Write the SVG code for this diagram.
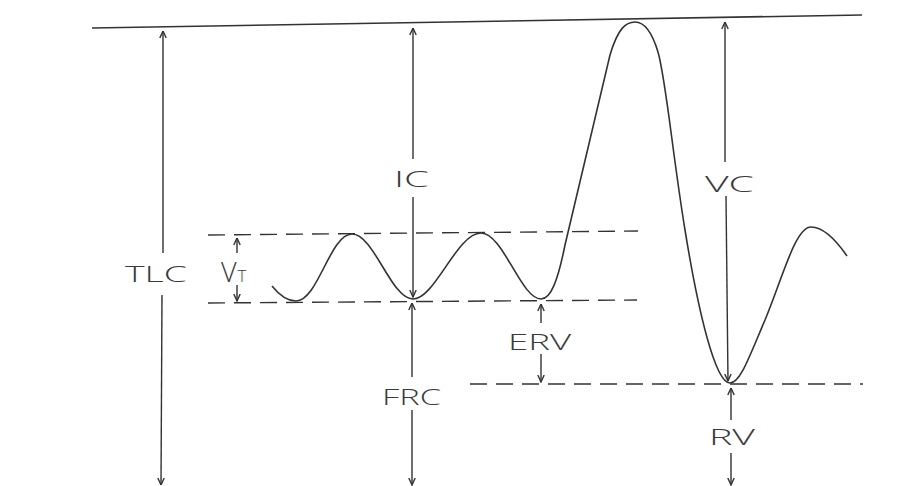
<svg xmlns="http://www.w3.org/2000/svg" width="897" height="486" viewBox="0 0 897 486">
<defs>
<marker id="ah" viewBox="0 0 8 8" refX="7.5" refY="4" markerWidth="8" markerHeight="8" markerUnits="userSpaceOnUse" orient="auto">
<path d="M0.5,0.8 L7.5,4 L0.5,7.2" fill="none" stroke="#333" stroke-width="1.4"/>
</marker>
<style>
.ln{stroke:#333;stroke-width:1.6;fill:none}
.ar{stroke:#333;stroke-width:1.4;fill:none;marker-end:url(#ah)}
.ds{stroke:#333;stroke-width:1.4;fill:none;stroke-dasharray:17 9}
.lb{font-family:"Open Sans","Liberation Sans",sans-serif;font-weight:300;font-size:22px;fill:#3a3a3a}
</style>
</defs>
<rect width="897" height="486" fill="#fff"/>
<g id="baseline-top"><line class="ln" x1="92" y1="28" x2="862" y2="15"/></g>
<g id="dashed-lines">
<line class="ds" x1="208" y1="235" x2="638" y2="231"/>
<line class="ds" x1="208" y1="303" x2="637" y2="300"/>
<line class="ds" x1="470" y1="384" x2="863" y2="384"/>
</g>
<g id="wave">
<path class="ln" d="M272,286 C280,296 288,301 296,301 C318,301 330,234 352,234 C374,234 391,299 413,299 C435,299 457,233 481,233 C503,233 521,299 541,299 C551,299 558,280 565,245 L610,55 C618,28 626,22 635,22 C645,22 652,32 658,52 C666,80 672,150 685,230 C698,310 715,383 730,383 C740,383 748,360 765,320 C782,280 795,227 811,227 C825,227 838,243 847,256"/>
</g>
<g id="connectors">
<line class="ar" x1="163" y1="253" x2="163" y2="31"/>
<line class="ar" x1="162" y1="295" x2="161" y2="485"/>
<line class="ar" x1="413" y1="159" x2="413" y2="28"/>
<line class="ar" x1="413" y1="197" x2="413" y2="297"/>
<line class="ar" x1="412" y1="377" x2="412" y2="303"/>
<line class="ar" x1="412" y1="410" x2="412" y2="485"/>
<line class="ar" x1="725" y1="162" x2="725" y2="22"/>
<line class="ar" x1="726" y1="196" x2="728" y2="381"/>
<line class="ar" x1="731" y1="420" x2="731" y2="388"/>
<line class="ar" x1="731" y1="453" x2="731" y2="485"/>
<line class="ar" x1="237" y1="253" x2="237" y2="238"/>
<line class="ar" x1="237" y1="285" x2="237" y2="301"/>
<line class="ar" x1="541" y1="323" x2="541" y2="304"/>
<line class="ar" x1="541" y1="354" x2="541" y2="382"/>
</g>
<g id="TLC"><text class="lb" x="125" y="282" textLength="62" lengthAdjust="spacingAndGlyphs">TLC</text></g>
<g id="VT"><text class="lb" x="221" y="282" style="font-size:27px">V<tspan style="font-size:17px" dx="1">T</tspan></text></g>
<g id="IC"><text class="lb" x="394" y="187" textLength="35" lengthAdjust="spacingAndGlyphs">IC</text></g>
<g id="VC"><text class="lb" x="705" y="192" textLength="49" lengthAdjust="spacingAndGlyphs">VC</text></g>
<g id="ERV"><text class="lb" x="508" y="350" textLength="63" lengthAdjust="spacingAndGlyphs">ERV</text></g>
<g id="FRC"><text class="lb" x="382" y="405" textLength="59" lengthAdjust="spacingAndGlyphs">FRC</text></g>
<g id="RV"><text class="lb" x="709" y="445" textLength="46" lengthAdjust="spacingAndGlyphs">RV</text></g>
</svg>
